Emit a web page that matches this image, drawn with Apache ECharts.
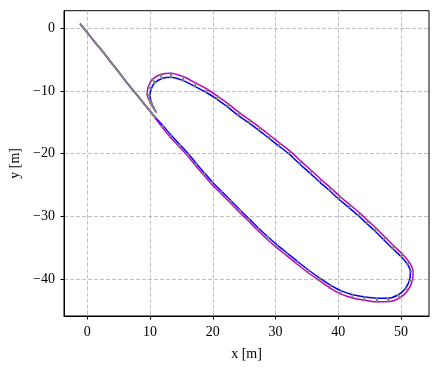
<!DOCTYPE html>
<html><head><meta charset="utf-8">
<script src="https://cdn.jsdelivr.net/npm/echarts@6/dist/echarts.min.js"></script>
<style>html,body{margin:0;padding:0;background:#fff}#c{width:436px;height:369px}</style>
</head><body><div id="c"></div>
<script>
// reference trajectory (blue)
const blueX = [-1.15, 0.1, 1.3, 2.55, 3.7, 4.85, 5.95, 7.1, 8.3, 9.5, 10.8, 12.1, 13.4, 14.8, 16.1, 17.4, 18.7, 19.95, 21.4, 22.9, 24.35, 25.8, 27.3, 28.8, 30.3, 31.9, 33.5, 35.3, 37.1, 38.8, 40.5, 42.3, 44.2, 46.1, 47.9, 49.5, 50.7, 51.35, 51.5, 51.0, 50.0, 48.6, 47.2, 45.8, 44.5, 43.2, 41.7, 40.0, 38.5, 37.0, 35.5, 33.8, 32.1, 30.5, 28.9, 27.3, 25.7, 24.0, 22.3, 20.6, 18.9, 17.1, 15.2, 13.3, 11.9, 10.8, 10.2, 10.0, 10.2, 10.55, 10.95];
const blueY = [0.75, -0.8, -2.3, -3.8, -5.3, -6.75, -8.2, -9.65, -11.1, -12.6, -14.15, -15.6, -17.1, -18.6, -20.0, -21.6, -23.1, -24.55, -26.0, -27.5, -29.0, -30.4, -31.9, -33.3, -34.6, -35.9, -37.2, -38.6, -39.9, -41.0, -41.9, -42.5, -42.85, -43.05, -43.05, -42.55, -41.5, -40.2, -38.8, -37.6, -36.4, -35.1, -33.7, -32.3, -31.1, -29.9, -28.6, -27.2, -25.8, -24.5, -23.1, -21.6, -20.0, -18.75, -17.5, -16.25, -15.05, -13.85, -12.5, -11.25, -10.2, -9.25, -8.3, -7.8, -8.0, -8.65, -9.6, -10.7, -11.8, -12.6, -13.35];
// actual trajectory (magenta)
const magX = [-1.15, -1.05, 0.15, 1.35, 2.6, 3.75, 4.9, 6.0, 7.2, 8.4, 9.8, 11.8, 13.17, 14.57, 15.87, 17.17, 18.47, 19.72, 21.18, 22.68, 24.13, 25.58, 27.08, 28.57, 30.07, 31.67, 33.27, 35.07, 36.87, 38.58, 40.29, 42.17, 44.14, 46.1, 48.07, 49.86, 51.13, 51.8, 51.92, 51.34, 50.29, 48.91, 47.51, 46.11, 44.81, 43.51, 42.01, 40.31, 38.81, 37.31, 35.81, 34.11, 32.41, 30.77, 29.17, 27.57, 25.97, 24.27, 22.57, 20.87, 19.15, 17.35, 15.35, 13.3, 11.69, 10.35, 9.69, 9.55, 9.75, 10.05, 10.45];
const magY = [0.75, 0.6, -0.9, -2.4, -3.9, -5.4, -6.85, -8.3, -9.75, -11.25, -12.95, -15.6, -17.3, -18.8, -20.2, -21.8, -23.3, -24.75, -26.22, -27.72, -29.22, -30.62, -32.12, -33.58, -34.88, -36.18, -37.48, -38.88, -40.18, -41.36, -42.33, -43.0, -43.39, -43.63, -43.6, -42.96, -41.75, -40.27, -38.76, -37.35, -36.1, -34.77, -33.37, -31.97, -30.77, -29.57, -28.27, -26.87, -25.47, -24.17, -22.77, -21.27, -19.67, -18.39, -17.14, -15.89, -14.69, -13.49, -12.14, -10.89, -9.76, -8.75, -7.72, -7.15, -7.38, -8.18, -9.4, -10.6, -11.2, -11.9, -12.55];
const xTicks = [0, 10, 20, 30, 40, 50];
const yTicks = [-40, -30, -20, -10, 0];

const blue = blueX.map((x, i) => [x, blueY[i]]);
const mag = magX.map((x, i) => [x, magY[i]]);
const segs = blueX.map((x, i) => ({coords: [[x, blueY[i]], [magX[i], magY[i]]]}));
const fam = '"Liberation Serif", "DejaVu Serif", serif';
const fmt = v => String(v).replace('-', '\u2212');
const gridLine = {show: true, lineStyle: {color: '#b0b0b0', width: 0.8, type: [4, 2]}};

const chart = echarts.init(document.getElementById('c'));
chart.setOption({
  animation: false,
  grid: {left: 64, right: 7, top: 10.7, bottom: 53, show: true, borderColor: '#000', borderWidth: 1, backgroundColor: 'transparent'},
  xAxis: {
    type: 'value', min: -3.71, max: 54.46,
    name: 'x [m]', nameLocation: 'middle', nameGap: 31,
    nameTextStyle: {fontFamily: fam, fontSize: 14, color: '#000'},
    axisLine: {show: true, onZero: false, lineStyle: {color: '#000', width: 1}},
    axisTick: {show: true, length: 3.5, inside: false, customValues: xTicks, lineStyle: {color: '#000'}},
    axisLabel: {customValues: xTicks, formatter: fmt, fontFamily: fam, fontSize: 14, color: '#000', margin: 9},
    splitLine: gridLine
  },
  yAxis: {
    type: 'value', min: -45.9, max: 2.81,
    name: 'y [m]', nameLocation: 'middle', nameGap: 41,
    nameTextStyle: {fontFamily: fam, fontSize: 14, color: '#000'},
    axisLine: {show: true, onZero: false, lineStyle: {color: '#000', width: 1}},
    axisTick: {show: true, length: 3.5, inside: false, customValues: yTicks, lineStyle: {color: '#000'}},
    axisLabel: {customValues: yTicks, formatter: fmt, fontFamily: fam, fontSize: 14, color: '#000', margin: 9},
    splitLine: gridLine
  },
  series: [
    {type: 'line', data: blue, showSymbol: false, smooth: 0.3, z: 2,
     lineStyle: {color: '#0000ff', width: 1.5}},
    {type: 'line', data: mag, showSymbol: false, smooth: 0.3, z: 3,
     lineStyle: {color: '#bf00bf', width: 1.5}},
    {type: 'lines', coordinateSystem: 'cartesian2d', data: segs, z: 4,
     lineStyle: {color: '#808080', width: 2, opacity: 1, cap: 'square'}}
  ]
});
</script></body></html>
